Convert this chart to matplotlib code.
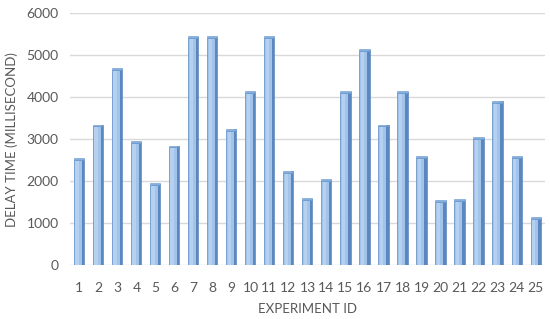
import matplotlib.pyplot as plt
import numpy as np

plt.rcParams['font.family'] = ['Lato', 'DejaVu Sans']

experiments = list(range(1, 26))
delay_ms = [2500, 3300, 4650, 2900, 1900, 2800, 5400, 5400, 3200, 4100,
            5400, 2200, 1550, 2000, 4100, 5100, 3300, 4100, 2550, 1500,
            1530, 3000, 3870, 2550, 1100]
yticks = [0, 1000, 2000, 3000, 4000, 5000, 6000]

fig = plt.figure(figsize=(5.5, 3.19), dpi=100)
ax = fig.add_axes([0.127, 0.169, 0.864, 0.79])

x = np.array(experiments)
h = np.array(delay_ms)
w_front = 0.40
w_side = 0.13
# front face of each bar, with a lighter stripe to suggest a gradient
ax.bar(x - w_side / 2, h, width=w_front, color='#A3C4EA', edgecolor='#6A98CC',
       linewidth=0.6, zorder=3)
ax.bar(x - w_side / 2 - 0.04, h - 20, width=w_front * 0.5, color='#B6D0EF',
       linewidth=0, zorder=3)
# darker side face
ax.bar(x + w_front / 2, h + 30, width=w_side, color='#5A87C0',
       edgecolor='#4F7DB8', linewidth=0.4, zorder=3)
# top cap
ax.bar(x, 45, bottom=h, width=w_front + w_side, color='#85ADDD',
       edgecolor='#6A98CC', linewidth=0.4, zorder=3)

ax.set_xlim(0.5, 25.5)
ax.set_ylim(0, 6000)
ax.set_xticks(experiments)
ax.set_yticks(yticks)
ax.tick_params(axis='both', length=0, colors='#595959', labelsize=10)
ax.tick_params(axis='x', pad=12)
ax.tick_params(axis='y', pad=8)
ax.grid(axis='y', color='#D9D9D9', linewidth=1, zorder=0)
for s in ax.spines.values():
    s.set_visible(False)

ax.set_xlabel('EXPERIMENT ID', color='#595959', fontsize=9.5, labelpad=7)
ax.set_ylabel('DELAY TIME (MILLISECOND)', color='#595959', fontsize=9.5, labelpad=6)

fig.savefig('out.png', dpi=100)
